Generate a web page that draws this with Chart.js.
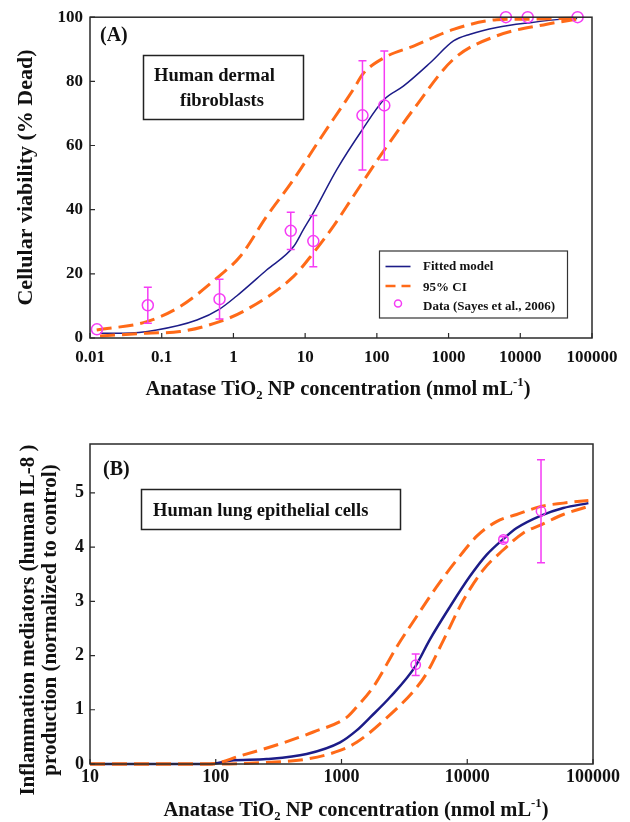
<!DOCTYPE html>
<html>
<head>
<meta charset="utf-8">
<script src="https://cdn.jsdelivr.net/npm/chart.js@4"></script>
<style>
html,body{margin:0;padding:0;background:#fff;width:630px;height:822px;overflow:hidden}
.wrap{position:absolute;left:0;width:630px}
canvas{display:block}
</style>
</head>
<body>
<div class="wrap" style="top:0;height:420px"><canvas id="cA" width="630" height="420"></canvas></div>
<div class="wrap" style="top:420px;height:402px"><canvas id="cB" width="630" height="402"></canvas></div>
<script>
// ---------- Panel (A): Human dermal fibroblasts ----------
const xTickLabelsA = ['0.01', '0.1', '1', '10', '100', '1000', '10000', '100000'];
const yTickLabelsA = ['0', '20', '40', '60', '80', '100'];

const fitConcA = [0.0138, 0.029, 0.085, 0.31, 0.64, 1.11, 2.9, 6.9, 9.4, 13, 27.6, 63, 127, 234, 555, 1170, 2000, 4700, 13800, 40000, 62000];
const fitValA  = [1.5, 1.5, 2.5, 5.6, 9, 13.1, 21.2, 28.5, 33.7, 39, 52.5, 65, 74.4, 78.5, 85.8, 92.6, 94.7, 96.8, 98.3, 99.4, 99.6];

const upperConcA = [0.0124, 0.062, 0.18, 0.64, 1.24, 2.9, 6.9, 16, 47, 65, 127, 325, 1170, 4700, 13800, 63000];
const upperValA  = [2.5, 5.1, 9.8, 19.4, 25.4, 37.9, 49.4, 61.9, 77.5, 82.5, 87.4, 91, 96.2, 99.2, 99.4, 99.7];

const lowerConcA = [0.0138, 0.062, 0.18, 0.64, 1.5, 6.9, 13, 24.7, 47, 111, 325, 1170, 4700, 23400, 63000];
const lowerValA  = [0.6, 1.5, 2, 5.1, 8.75, 19.2, 26.5, 34.8, 44.2, 56.7, 71.3, 86.9, 94.2, 97.8, 99.4];

const dataConcA = [0.0125, 0.064, 0.64, 6.3, 13, 63, 127, 6300, 12700, 63000];
const dataValA  = [2.7, 10.2, 12.1, 33.4, 30.2, 69.4, 72.5, 100, 100, 100];
const dataErrA  = [0, 5.6, 6.2, 5.8, 8, 17, 17, 0, 0, 0];

// ---------- Panel (B): Human lung epithelial cells ----------
const xTickLabelsB = ['10', '100', '1000', '10000', '100000'];
const yTickLabelsB = ['0', '1', '2', '3', '4', '5'];

const fitConcB = [10, 90, 130, 254, 528, 975, 1320, 1690, 2430, 3890, 5000, 7290, 10500, 14300, 19400, 24700, 38600, 58000, 91900];
const fitValB  = [0, 0, 0.06, 0.09, 0.185, 0.4, 0.62, 0.86, 1.23, 1.81, 2.28, 2.9, 3.46, 3.86, 4.15, 4.35, 4.58, 4.72, 4.81];

const upperConcB = [10, 90, 156, 324, 597, 1100, 1320, 1790, 2750, 3960, 5720, 8240, 11900, 17100, 24700, 38600, 58000, 91900];
const upperValB  = [0, 0, 0.15, 0.37, 0.59, 0.86, 1.05, 1.42, 2.16, 2.72, 3.27, 3.76, 4.2, 4.47, 4.6, 4.75, 4.81, 4.86];

const lowerConcB = [10, 108, 254, 528, 975, 1320, 2020, 3890, 4750, 6460, 9310, 13400, 19400, 27900, 38600, 58000, 91900];
const lowerValB  = [0, 0, 0.03, 0.09, 0.25, 0.4, 0.74, 1.39, 1.67, 2.28, 3.02, 3.58, 3.95, 4.26, 4.41, 4.6, 4.75];

const dataConcB = [3890, 19400, 38600];
const dataValB  = [1.83, 4.14, 4.66];
const dataErrB  = [0.2, 0.05, 0.95];

// ---------- styling ----------
const FONT = "'Liberation Serif', 'Times New Roman', serif";
const NAVY = '#1c1c88';
const ORANGE = '#ff6a18';
const MAGENTA = '#f53cf5';
const INK = '#111111';

function pts(xs, ys) { return xs.map((x, i) => ({ x: x, y: ys[i] })); }

function drawRich(ctx, parts, cx, baseline, size) {
  let total = 0;
  const items = parts.map(p => {
    const s = p[1] ? size * 0.62 : size;
    ctx.font = 'bold ' + s + 'px ' + FONT;
    const w = ctx.measureText(p[0]).width;
    total += w;
    return { t: p[0], mode: p[1], s: s, w: w };
  });
  let x = cx - total / 2;
  ctx.textAlign = 'left';
  ctx.textBaseline = 'alphabetic';
  items.forEach(it => {
    ctx.font = 'bold ' + it.s + 'px ' + FONT;
    const dy = it.mode === 'sub' ? size * 0.22 : (it.mode === 'sup' ? -size * 0.42 : 0);
    ctx.fillText(it.t, x, baseline + dy);
    x += it.w;
  });
}

const xTitleParts = [['Anatase TiO', ''], ['2', 'sub'], [' NP concentration (nmol mL', ''], ['-1', 'sup'], [')', '']];

function makeDecor(cfg) {
  return {
    id: 'decor',
    afterDatasetsDraw(chart) {
      const ctx = chart.ctx;
      const ys = chart.scales.y;
      const meta = chart.getDatasetMeta(0);
      ctx.save();
      ctx.strokeStyle = MAGENTA;
      ctx.lineWidth = 1.5;
      meta.data.forEach((el, i) => {
        const e = cfg.dataErr[i];
        if (!e) return;
        const v = cfg.dataY[i];
        const y1 = ys.getPixelForValue(v + e);
        const y2 = ys.getPixelForValue(v - e);
        ctx.beginPath();
        ctx.moveTo(el.x, y1); ctx.lineTo(el.x, y2);
        ctx.moveTo(el.x - 4, y1); ctx.lineTo(el.x + 4, y1);
        ctx.moveTo(el.x - 4, y2); ctx.lineTo(el.x + 4, y2);
        ctx.stroke();
      });
      ctx.restore();
    },
    afterDraw(chart) {
      const ctx = chart.ctx;
      const a = chart.chartArea;
      const xs = chart.scales.x, ys = chart.scales.y;
      ctx.save();
      // frame
      ctx.strokeStyle = '#2a2a2a';
      ctx.lineWidth = 1.5;
      ctx.strokeRect(a.left, a.top, a.right - a.left, a.bottom - a.top);
      // inward tick marks
      ctx.lineWidth = 1.2;
      ctx.beginPath();
      xs.ticks.forEach(t => {
        const px = xs.getPixelForValue(t.value);
        ctx.moveTo(px, a.bottom); ctx.lineTo(px, a.bottom - 5);
      });
      ys.ticks.forEach(t => {
        const py = ys.getPixelForValue(t.value);
        ctx.moveTo(a.left, py); ctx.lineTo(a.left + 5, py);
      });
      ctx.stroke();
      ctx.fillStyle = INK;
      // x title
      drawRich(ctx, xTitleParts, cfg.xTitleX, cfg.xTitleY, 20.5);
      // y title (rotated, baseline toward the plot)
      ctx.save();
      ctx.font = 'bold ' + cfg.yTitleSize + 'px ' + FONT;
      ctx.textAlign = 'center';
      ctx.textBaseline = 'alphabetic';
      cfg.yTitle.forEach((line, i) => {
        ctx.save();
        ctx.translate(cfg.yTitleX[i], cfg.yTitleY);
        ctx.rotate(-Math.PI / 2);
        ctx.fillText(line, 0, 0);
        ctx.restore();
      });
      ctx.restore();
      // panel letter
      ctx.font = 'bold 20px ' + FONT;
      ctx.textAlign = 'left';
      ctx.textBaseline = 'alphabetic';
      ctx.fillText(cfg.panel, cfg.panelX, cfg.panelY);
      // label box
      const b = cfg.box;
      ctx.strokeStyle = '#222';
      ctx.lineWidth = 1.5;
      ctx.strokeRect(b.x, b.y, b.w, b.h);
      ctx.font = 'bold 18.5px ' + FONT;
      b.lines.forEach(l => ctx.fillText(l[0], l[1], l[2]));
      // legend
      if (cfg.legend) {
        const L = cfg.legend;
        const dsFit = chart.data.datasets[3], dsCI = chart.data.datasets[1], dsData = chart.data.datasets[0];
        ctx.strokeStyle = '#333';
        ctx.lineWidth = 1.2;
        ctx.strokeRect(L.x, L.y, L.w, L.h);
        ctx.font = 'bold 13px ' + FONT;
        ctx.fillStyle = INK;
        ctx.strokeStyle = dsFit.borderColor; ctx.lineWidth = 1.6; ctx.setLineDash([]);
        ctx.beginPath(); ctx.moveTo(L.x + 6, L.y + 15.5); ctx.lineTo(L.x + 31, L.y + 15.5); ctx.stroke();
        ctx.fillText(dsFit.label, L.x + 43.5, L.y + 19);
        ctx.strokeStyle = dsCI.borderColor; ctx.lineWidth = 2.5; ctx.setLineDash([10, 6]);
        ctx.beginPath(); ctx.moveTo(L.x + 6, L.y + 35); ctx.lineTo(L.x + 31, L.y + 35); ctx.stroke();
        ctx.setLineDash([]);
        ctx.fillText(dsCI.label, L.x + 43.5, L.y + 39.5);
        ctx.strokeStyle = dsData.pointBorderColor; ctx.lineWidth = 1.5;
        ctx.beginPath(); ctx.arc(L.x + 18.5, L.y + 52.5, 3.5, 0, Math.PI * 2); ctx.stroke();
        ctx.fillText(dsData.label, L.x + 43.5, L.y + 58.5);
      }
      ctx.restore();
    }
  };
}

function buildChart(id, cfg) {
  const tickFont = { family: FONT, weight: 'bold', size: cfg.tickSize };
  return new Chart(document.getElementById(id), {
    type: 'line',
    data: {
      datasets: [
        { label: 'Data (Sayes et al., 2006)', data: pts(cfg.dataX, cfg.dataY), showLine: false,
          pointRadius: cfg.pointR, pointHoverRadius: cfg.pointR, pointStyle: 'circle',
          pointBorderColor: MAGENTA, pointBackgroundColor: 'rgba(0,0,0,0)', pointBorderWidth: 1.5,
          borderColor: MAGENTA, order: 0, clip: false },
        { label: '95% CI', data: pts(cfg.upX, cfg.upY), borderColor: ORANGE, borderWidth: 3,
          borderDash: [15, 7], pointRadius: 0, cubicInterpolationMode: 'monotone', fill: false, order: 1, clip: false },
        { label: '95% CI', data: pts(cfg.loX, cfg.loY), borderColor: ORANGE, borderWidth: 3,
          borderDash: [15, 7], pointRadius: 0, cubicInterpolationMode: 'monotone', fill: false, order: 1, clip: false },
        { label: 'Fitted model', data: pts(cfg.fitX, cfg.fitY), borderColor: NAVY, borderWidth: cfg.fitW,
          pointRadius: 0, cubicInterpolationMode: 'monotone', fill: false, order: 2, clip: false }
      ]
    },
    options: {
      responsive: false,
      animation: false,
      devicePixelRatio: 1,
      events: [],
      layout: { padding: { left: 0, right: cfg.padR, top: cfg.padT, bottom: 0 } },
      plugins: { legend: { display: false }, tooltip: { enabled: false } },
      scales: {
        x: {
          type: 'logarithmic', min: parseFloat(cfg.xLabels[0]), max: parseFloat(cfg.xLabels[cfg.xLabels.length - 1]),
          grid: { display: false, drawTicks: false }, border: { display: false },
          ticks: { autoSkip: false, maxRotation: 0, minRotation: 0, padding: cfg.xPad, color: INK, font: tickFont,
                   callback: (v, i) => cfg.xLabels[i] },
          afterBuildTicks: s => { s.ticks = cfg.xLabels.map(t => ({ value: parseFloat(t) })); },
          afterFit: s => { s.height = cfg.xH; }
        },
        y: {
          type: 'linear', min: 0, max: cfg.yMax,
          grid: { display: false, drawTicks: false }, border: { display: false },
          ticks: { autoSkip: false, padding: cfg.yPad, color: INK, font: tickFont,
                   callback: (v, i) => cfg.yLabels[i] },
          afterBuildTicks: s => { s.ticks = cfg.yLabels.map(t => ({ value: parseFloat(t) })); },
          afterFit: s => { s.width = 90; }
        }
      }
    },
    plugins: [makeDecor(cfg)]
  });
}

buildChart('cA', {
  xLabels: xTickLabelsA, yLabels: yTickLabelsA, yMax: 100,
  fitX: fitConcA, fitY: fitValA, upX: upperConcA, upY: upperValA, loX: lowerConcA, loY: lowerValA,
  dataX: dataConcA, dataY: dataValA, dataErr: dataErrA,
  pointR: 5.5, fitW: 1.5, tickSize: 17, xPad: 9, yPad: 7,
  padR: 38, padT: 17, xH: 420 - 338,
  xTitleX: 338, xTitleY: 394.5,
  yTitle: ['Cellular viability (% Dead)'], yTitleX: [32], yTitleY: 177.5, yTitleSize: 22,
  panel: '(A)', panelX: 100, panelY: 41,
  box: { x: 143.5, y: 55.5, w: 160, h: 64, lines: [['Human dermal', 154, 80.5], ['fibroblasts', 180, 105.5]] },
  legend: { x: 379.5, y: 251, w: 188, h: 67 }
});

buildChart('cB', {
  xLabels: xTickLabelsB, yLabels: yTickLabelsB, yMax: 5.9,
  fitX: fitConcB, fitY: fitValB, upX: upperConcB, upY: upperValB, loX: lowerConcB, loY: lowerValB,
  dataX: dataConcB, dataY: dataValB, dataErr: dataErrB,
  pointR: 4.7, fitW: 2.5, tickSize: 18, xPad: 3, yPad: 6,
  padR: 37, padT: 24, xH: 402 - 344,
  xTitleX: 356, xTitleY: 395.5,
  yTitle: ['Inflammation mediators (human IL-8 )', 'production (normalized to control)'], yTitleX: [34, 55.5], yTitleY: 200, yTitleSize: 21,
  panel: '(B)', panelX: 103, panelY: 54.5,
  box: { x: 141.5, y: 69.5, w: 259, h: 40, lines: [['Human lung epithelial cells', 153, 96]] },
  legend: null
});
</script>
</body>
</html>
